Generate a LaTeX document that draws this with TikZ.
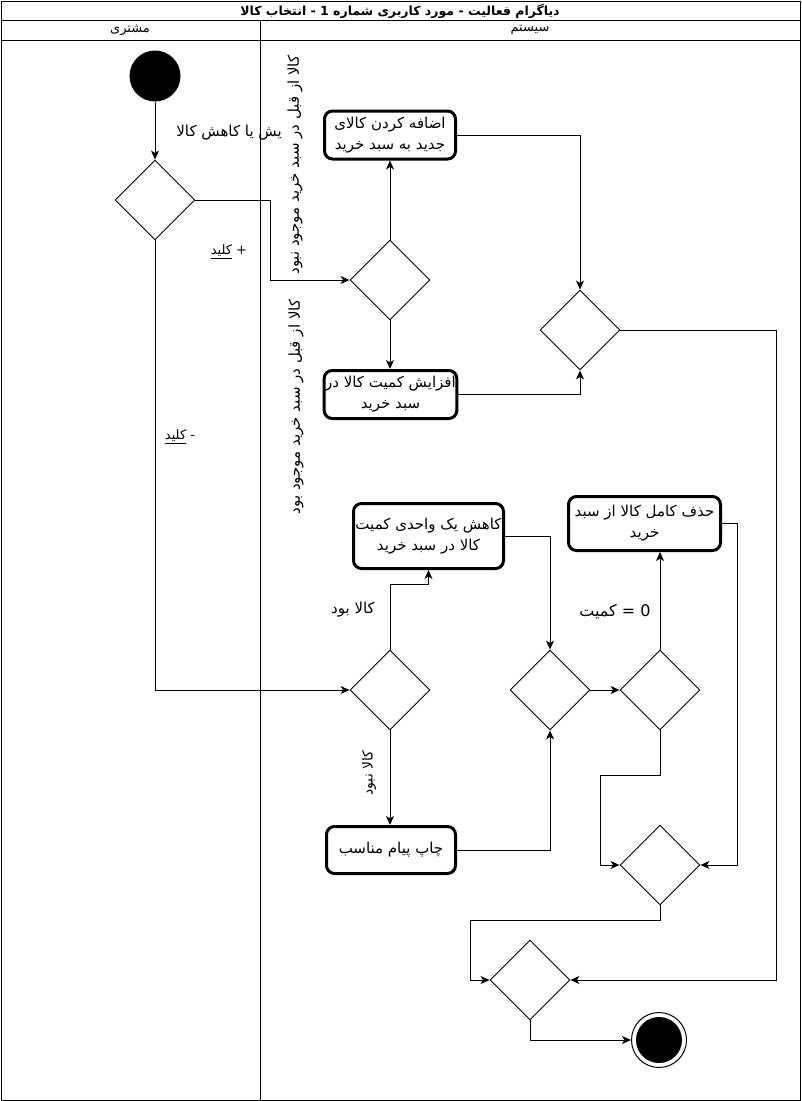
\documentclass[tikz,border=0pt]{standalone}
\usepackage{fontspec}
\setmainfont{DejaVu Sans}
\newfontfamily\arabicfont[Script=Arabic]{DejaVu Sans}
\TeXXeTstate=1
\usetikzlibrary{arrows.meta,shapes.geometric}
\newcommand{\rtl}[1]{{\arabicfont\beginR #1\endR}}
\begin{document}
\begin{tikzpicture}[x=1pt,y=-1pt,
  actbox/.style={draw, line width=3pt, rounded corners=8pt, align=center, inner sep=1pt, font=\fontsize{15}{21}\selectfont},
  dec/.style={draw, diamond, line width=0.9pt, minimum width=80pt, minimum height=80pt, inner sep=0pt},
  flow/.style={line width=0.9pt, -{Stealth[length=9pt,width=8pt,inset=2.5pt]}},
  lbl/.style={inner sep=1pt, font=\fontsize{15}{17}\selectfont},
  frame/.style={line width=1pt}]
\useasboundingbox (0,0) rectangle (801,1101);
% frame
\draw[frame] (1,1) rectangle (800,1100);
\draw[frame] (1,20) -- (800,20);
\draw[frame] (1,40) -- (800,40);
\draw[frame] (260,20) -- (260,1100);
\node[font=\fontsize{12.5}{15}\selectfont\bfseries] (title) at (400,11) {\rtl{دیاگرام فعالیت - مورد کاربری شماره 1 - انتخاب کالا}};
\node[font=\fontsize{13}{14}\selectfont] (lane1) at (130,30) {\rtl{مشتری}};
\node[font=\fontsize{13}{14}\selectfont] (lane2) at (530,30) {\rtl{سیستم}};
% nodes
\node[circle, fill=black, minimum size=51pt, inner sep=0pt] (start) at (155,76) {};
\node[dec] (d1) at (155,200) {};
\node[dec] (d2) at (390,280) {};
\node[dec] (d3) at (580,330) {};
\node[dec] (d4) at (390,690) {};
\node[dec] (d5) at (550,690) {};
\node[dec] (d6) at (660,690) {};
\node[dec] (d7) at (660,865) {};
\node[dec] (d8) at (530,980) {};
\node[actbox, minimum width=131pt, minimum height=48pt] (box1) at (390,135) {\rtl{اضافه کردن کالای}\\\rtl{جدید به سبد خرید}};
\node[actbox, minimum width=130pt, minimum height=48pt] (box2) at (390.5,394.5) {\rtl{افزایش کمیت کالا در}\\\rtl{سبد خرید}};
\node[actbox, minimum width=150pt, minimum height=65pt] (box3) at (428.5,536) {\rtl{کاهش یک واحدی کمیت}\\\rtl{کالا در سبد خرید}};
\node[actbox, minimum width=152pt, minimum height=54pt] (box4) at (644.5,523.5) {\rtl{حذف کامل کالا از سبد}\\\rtl{خرید}};
\node[actbox, minimum width=129pt, minimum height=47pt] (box5) at (391,850) {\rtl{چاپ پیام مناسب}};
\node[circle, draw, line width=1pt, minimum size=55pt, inner sep=0pt] (end) at (659,1040) {};
\node[circle, fill=black, minimum size=46pt, inner sep=0pt] (endin) at (659,1040) {};
% labels
\node[lbl, anchor=east] (l0) at (283,133) {\rtl{یش یا کاهش کالا}};
\node[lbl, font=\fontsize{13}{14}\selectfont] (lplus) at (229,252) {\rtl{+ \underline{کلید}}};
\node[lbl, font=\fontsize{13}{14}\selectfont] (lminus) at (180,437) {\rtl{- \underline{کلید}}};
\node[lbl, rotate=90] (v1) at (295,165) {\rtl{کالا از قبل در سبد خرید موجود نبود}};
\node[lbl, rotate=90] (v2) at (296,407) {\rtl{کالا از قبل در سبد خرید موجود بود}};
\node[lbl] (lbood) at (353,610) {\rtl{کالا بود}};
\node[lbl, rotate=90, font=\fontsize{14}{15}\selectfont] (lnabood) at (369,773) {\rtl{کالا نبود}};
\node[lbl, font=\fontsize{16}{18}\selectfont] (lzero) at (615,612) {\rtl{0 = کمیت}};
% connectors
\draw[flow] (start) -- (d1.north);
\draw[flow] (d1.east) -- ++(75,0) |- (d2.west);
\draw[flow] (d2.north) -- (box1.south);
\draw[flow] (d2.south) -- (d2.south |- box2.north);
\draw[flow] (box1.east) -| (d3.north);
\draw[flow] (box2.east) -| (d3.south);
\draw[flow] (d3.east) -- ++(156,0) |- (d8.east);
\draw[flow] (d1.south) |- (d4.west);
\draw[flow] (d4.north) -- ++(0,-65) -| (box3.south);
\draw[flow] (box3.east) -| (d5.north);
\draw[flow] (d4.south) -- (d4.south |- box5.north);
\draw[flow] (box5.east) -| (d5.south);
\draw[flow] (d5.east) -- (d6.west);
\draw[flow] (d6.north) -- (d6.north |- box4.south);
\draw[flow] (box4.east) -- ++(15,0) |- (d7.east);
\draw[flow] (d6.south) -- ++(0,45) -- ++(-60,0) |- (d7.west);
\draw[flow] (d7.south) -- ++(0,15) -- ++(-190,0) |- (d8.west);
\draw[flow] (d8.south) |- (end.west);
\end{tikzpicture}
\end{document}
